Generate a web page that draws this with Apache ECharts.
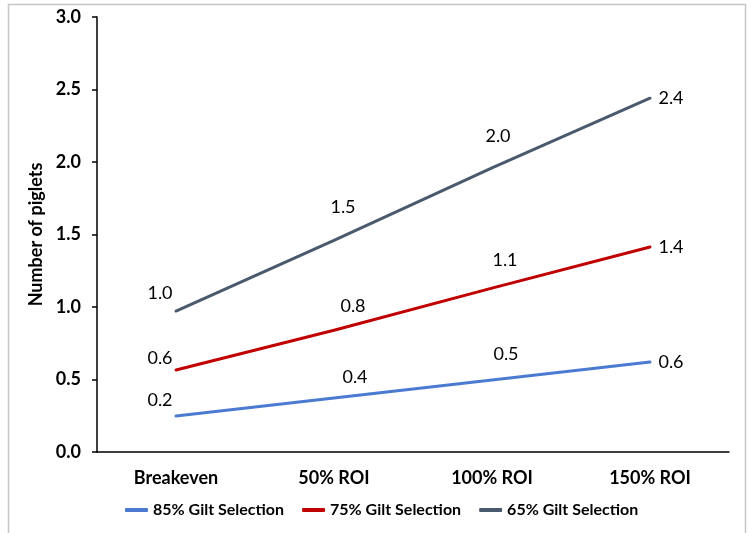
<!DOCTYPE html>
<html><head><meta charset="utf-8">
<script src="https://cdn.jsdelivr.net/npm/echarts@6/dist/echarts.min.js"></script>
<style>html,body{margin:0;padding:0;background:#fff}#c{width:751px;height:533px}</style>
</head><body><div id="c"></div>
<script>
const categories = ['Breakeven', '50% ROI', '100% ROI', '150% ROI'];
const gilt85 = [0.248, 0.372, 0.496, 0.62];
const gilt75 = [0.566, 0.84, 1.13, 1.414];
const gilt65 = [0.972, 1.46, 1.96, 2.44];
const yTicks = { min: 0, max: 3, interval: 0.5 };

const FONT = 'Lato';
const offs = {
  g65: [[-16,-18],[9,-33],[6,-32],[21,0]],
  g75: [[-16,-12],[19,-24],[13,-28],[21,0]],
  g85: [[-16,-16],[21,-21],[14,-26],[21,0]]
};
function mk(name, vals, color, o) {
  return {
    name, type: 'line', data: vals.map((v, i) => ({
      value: v,
      label: { offset: o[i] }
    })),
    symbol: 'circle', symbolSize: 2, showSymbol: true,
    lineStyle: { color, width: 3, cap: 'round' },
    itemStyle: { color },
    label: {
      show: true, position: 'inside', align: 'center', verticalAlign: 'middle',
      fontFamily: FONT, fontSize: 18, color: '#000',
      formatter: p => p.value.toFixed(1)
    }
  };
}
const chart = echarts.init(document.getElementById('c'));
chart.setOption({
  animation: false,
  graphic: [{ type: 'rect', shape: { x: 8.5, y: 4.5, width: 737, height: 600 },
    style: { fill: 'none', stroke: '#c6c6c6', lineWidth: 1.5 }, silent: true }],
  grid: { left: 97, right: 22, top: 17, bottom: 81, containLabel: false },
  legend: {
    bottom: 10, left: 120, itemWidth: 23, itemHeight: 4, itemGap: 18,
    icon: 'roundRect',
    textStyle: { fontFamily: FONT, fontSize: 16, fontWeight: 'bold', color: '#000' },
    data: ['85% Gilt Selection', '75% Gilt Selection', '65% Gilt Selection']
  },
  xAxis: {
    type: 'category', data: categories, boundaryGap: true,
    axisLine: { lineStyle: { color: '#000', width: 1.5 } },
    axisTick: { show: false },
    axisLabel: { fontFamily: FONT, fontSize: 18, fontWeight: 'bold', color: '#000', margin: 17 }
  },
  yAxis: {
    type: 'value', min: yTicks.min, max: yTicks.max, interval: yTicks.interval,
    name: 'Number of piglets', nameLocation: 'middle', nameRotate: 90, nameGap: 48,
    nameTextStyle: { fontFamily: FONT, fontSize: 18, fontWeight: 'bold', color: '#000' },
    axisLine: { show: true, lineStyle: { color: '#000', width: 1.5 } },
    axisTick: { show: true, length: 5, lineStyle: { color: '#000', width: 1.5 } },
    splitLine: { show: false },
    axisLabel: { fontFamily: FONT, fontSize: 18, fontWeight: 'bold', color: '#000', margin: 16,
      formatter: v => v.toFixed(1) }
  },
  series: [
    mk('85% Gilt Selection', gilt85, '#4a7bd0', offs.g85),
    mk('75% Gilt Selection', gilt75, '#c00000', offs.g75),
    mk('65% Gilt Selection', gilt65, '#4a5a6e', offs.g65)
  ]
});
</script></body></html>
